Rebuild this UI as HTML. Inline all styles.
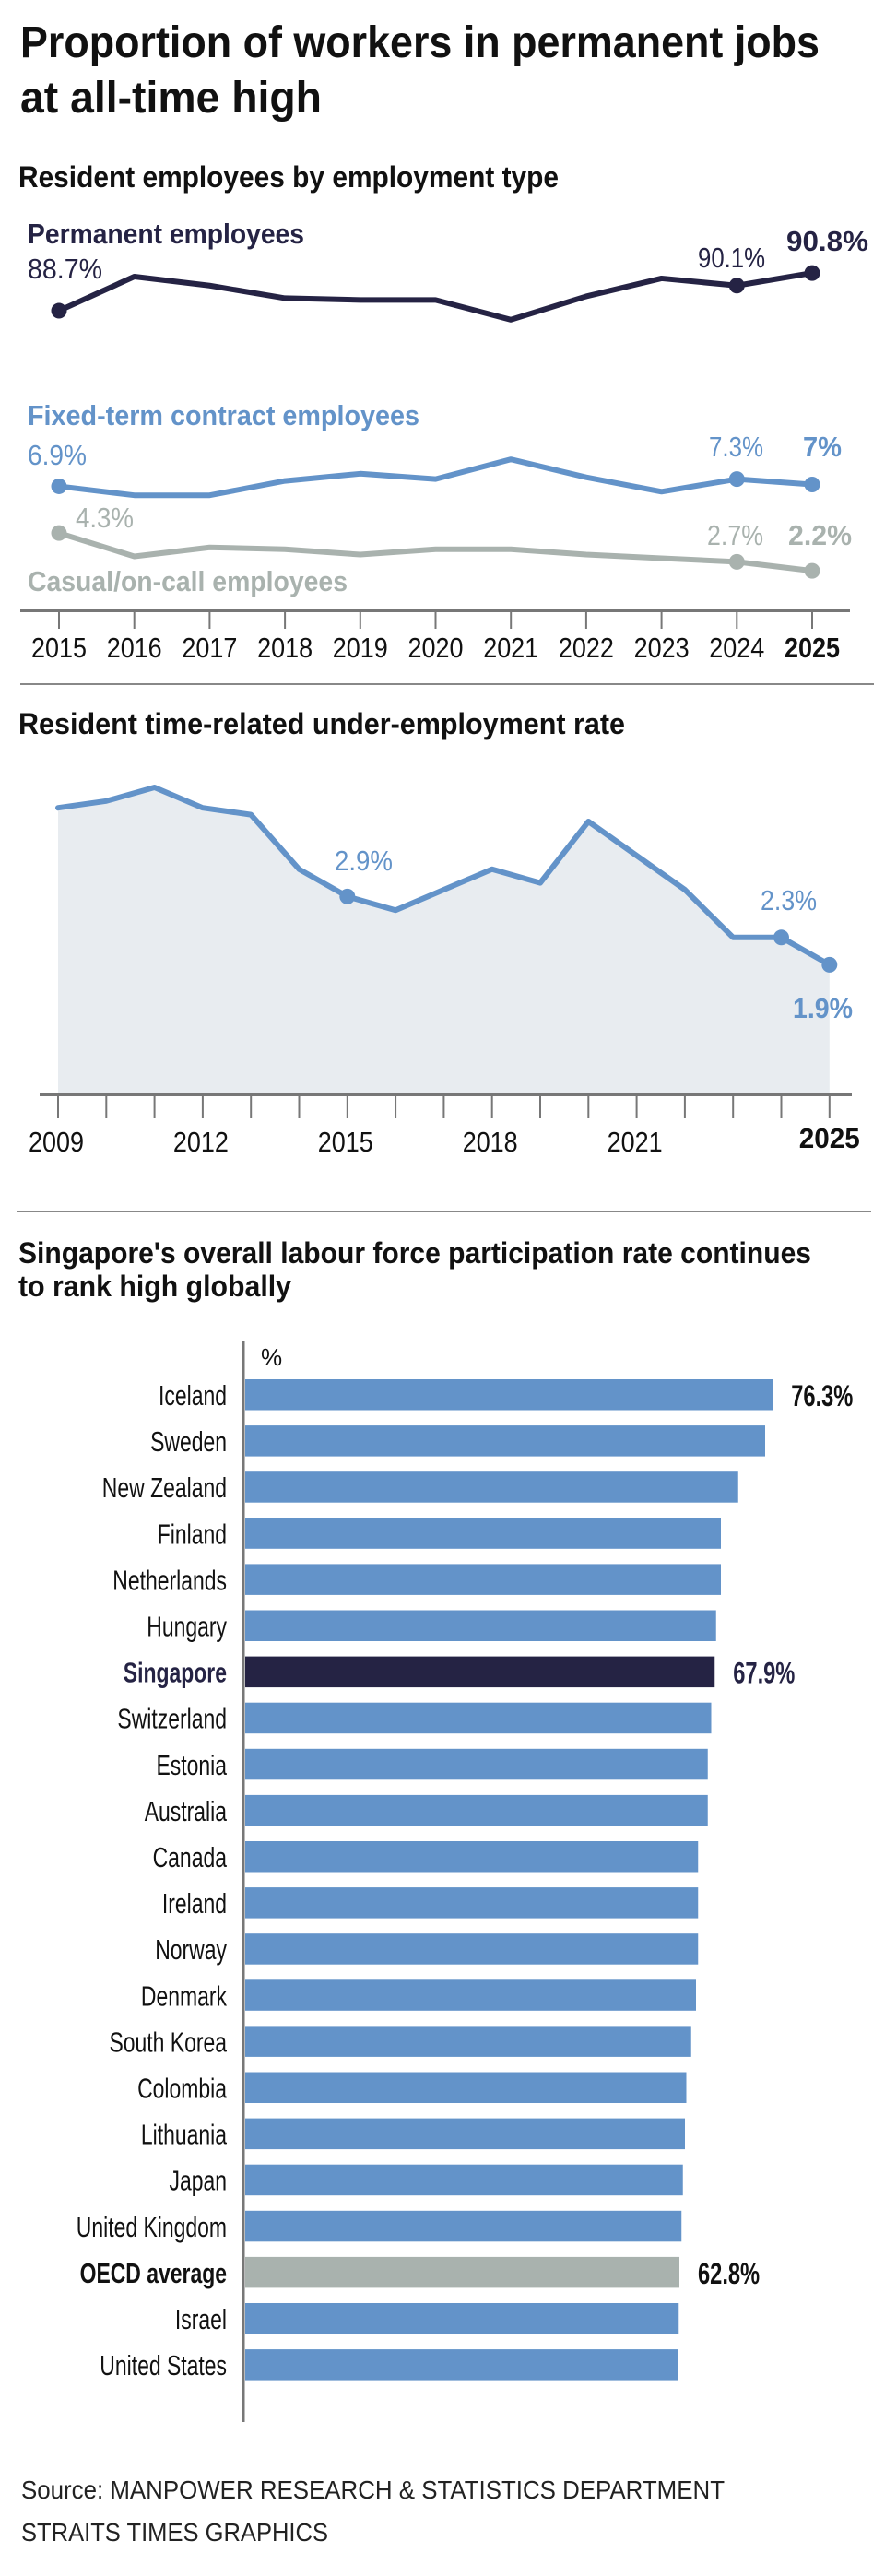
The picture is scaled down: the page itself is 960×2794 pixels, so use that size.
<!DOCTYPE html>
<html><head><meta charset="utf-8"><style>
html,body{margin:0;padding:0;background:#fff}
svg{display:block;font-family:"Liberation Sans",sans-serif}
</style></head><body>
<svg id="svg" width="960" height="2794" viewBox="0 0 960 2794" xmlns="http://www.w3.org/2000/svg">
<text x="22" y="62" font-size="48" font-weight="bold" fill="#111" textLength="867" lengthAdjust="spacingAndGlyphs">Proportion of workers in permanent jobs</text>
<text x="22" y="122" font-size="48" font-weight="bold" fill="#111" textLength="327" lengthAdjust="spacingAndGlyphs">at all-time high</text>
<text x="20" y="203" font-size="32" font-weight="bold" fill="#111" textLength="586" lengthAdjust="spacingAndGlyphs">Resident employees by employment type</text>
<text x="30" y="264" font-size="31" font-weight="bold" fill="#252344" textLength="300" lengthAdjust="spacingAndGlyphs">Permanent employees</text>
<text x="30" y="461" font-size="31" font-weight="bold" fill="#6393c9" textLength="425" lengthAdjust="spacingAndGlyphs">Fixed-term contract employees</text>
<text x="30" y="641" font-size="31" font-weight="bold" fill="#a9b2ae" textLength="347" lengthAdjust="spacingAndGlyphs">Casual/on-call employees</text>
<g id="c1"></g>
<line x1="22" y1="742" x2="948" y2="742" stroke="#888" stroke-width="2"/>
<text x="20" y="796" font-size="32" font-weight="bold" fill="#111" textLength="658" lengthAdjust="spacingAndGlyphs">Resident time-related under-employment rate</text>
<g id="c2"></g>
<line x1="18" y1="1314" x2="945" y2="1314" stroke="#888" stroke-width="2"/>
<text x="20" y="1370" font-size="32" font-weight="bold" fill="#111" textLength="860" lengthAdjust="spacingAndGlyphs">Singapore's overall labour force participation rate continues</text>
<text x="20" y="1406" font-size="32" font-weight="bold" fill="#111" textLength="296" lengthAdjust="spacingAndGlyphs">to rank high globally</text>
<g id="c3"></g>
<text x="23" y="2710" font-size="28" fill="#222" textLength="763" lengthAdjust="spacingAndGlyphs">Source: MANPOWER RESEARCH &amp; STATISTICS DEPARTMENT</text>
<text x="23" y="2756" font-size="28" fill="#222" textLength="333" lengthAdjust="spacingAndGlyphs">STRAITS TIMES GRAPHICS</text>
</svg>
<script>
const years1 = [2015,2016,2017,2018,2019,2020,2021,2022,2023,2024,2025];
const permanent = [88.7,90.6,90.1,89.4,89.3,89.3,88.2,89.5,90.5,90.1,90.8];
const fixedTerm = [6.9,6.4,6.4,7.2,7.6,7.3,8.4,7.4,6.6,7.3,7.0];
const casual = [4.3,3.0,3.5,3.4,3.1,3.4,3.4,3.1,2.9,2.7,2.2];

const years2 = [2009,2010,2011,2012,2013,2014,2015,2016,2017,2018,2019,2020,2021,2022,2023,2024,2025];
const underEmp = [4.2,4.3,4.5,4.2,4.1,3.3,2.9,2.7,3.0,3.3,3.1,4.0,3.5,3.0,2.3,2.3,1.9];
const years2Labels = [2009,2012,2015,2018,2021,2025];

const countries = ["Iceland","Sweden","New Zealand","Finland","Netherlands","Hungary","Singapore","Switzerland","Estonia","Australia","Canada","Ireland","Norway","Denmark","South Korea","Colombia","Lithuania","Japan","United Kingdom","OECD average","Israel","United States"];
const lfpr = [76.3,75.2,71.3,68.8,68.8,68.1,67.9,67.4,66.9,66.9,65.5,65.5,65.5,65.2,64.5,63.8,63.6,63.3,63.1,62.8,62.7,62.6];

const NS="http://www.w3.org/2000/svg";
function mk(parent,tag,attrs){const e=document.createElementNS(NS,tag);for(const k in attrs)e.setAttribute(k,attrs[k]);parent.appendChild(e);return e;}
function txt(parent,s,attrs){const e=mk(parent,'text',attrs);e.textContent=s;return e;}

// Chart 1
const c1=document.getElementById('c1');
const x1=y=>64+(y-2015)*81.7;
const yPerm=v=>2066.7-v*19.5;
const yLow=v=>662-v*19.5;
let ax=mk(c1,'line',{x1:22,y1:662,x2:922,y2:662,stroke:'#777','stroke-width':4});


years1.forEach((yr,i)=>{
  const t=mk(c1,'line',{x1:x1(yr),y1:662,x2:x1(yr),y2:682,stroke:'#777','stroke-width':2});
  
  
  const l=txt(c1,String(yr),{x:x1(yr),y:713,'text-anchor':'middle','font-size':31,fill:'#111','font-weight':yr===2025?'bold':'normal',textLength:60,lengthAdjust:'spacingAndGlyphs'});
  
  
});
function series(parent,xs,vals,xf,yf,color,name,marks){
  const pts=vals.map((v,i)=>xf(xs[i])+','+yf(v)).join(' ');
  const pl=mk(parent,'polyline',{points:pts,fill:'none',stroke:color,'stroke-width':6,'stroke-linejoin':'round','stroke-linecap':'round'});
  
  
  marks.forEach(i=>{
    const c=mk(parent,'circle',{cx:xf(xs[i]),cy:yf(vals[i]),r:8.5,fill:color});
    
    
  });
}
series(c1,years1,casual,x1,yLow,'#a9b2ae','casual',[0,9,10]);
series(c1,years1,fixedTerm,x1,yLow,'#6393c9','fixed-term',[0,9,10]);
series(c1,years1,permanent,x1,yPerm,'#252344','permanent',[0,9,10]);
function vlabel(parent,s,x,y,color,bold,len,name){
  const e=txt(parent,s,{x:x,y:y,'font-size':31,fill:color,'font-weight':bold?'bold':'normal',textLength:len,lengthAdjust:'spacingAndGlyphs'});
  
  
}
vlabel(c1,permanent[0]+'%',30,302,'#252344',false,81,'permanent-2015-value');
vlabel(c1,permanent[9]+'%',757,290,'#252344',false,73,'permanent-2024-value');
vlabel(c1,permanent[10]+'%',853,272,'#252344',true,89,'permanent-2025-value');
vlabel(c1,fixedTerm[0]+'%',30,504,'#6393c9',false,64,'fixed-term-2015-value');
vlabel(c1,fixedTerm[9]+'%',769,495,'#6393c9',false,59,'fixed-term-2024-value');
vlabel(c1,Math.round(fixedTerm[10]*10)/10+'%',871,495,'#6393c9',true,42,'fixed-term-2025-value');
vlabel(c1,casual[0]+'%',82,572,'#a9b2ae',false,63,'casual-2015-value');
vlabel(c1,casual[9]+'%',767,591,'#a9b2ae',false,61,'casual-2024-value');
vlabel(c1,casual[10]+'%',855,591,'#a9b2ae',true,69,'casual-2025-value');

// Chart 2
const c2=document.getElementById('c2');
const x2=y=>63+(y-2009)*52.3;
const y2=v=>1187-v*74;
const areaPts=[x2(years2[0])+','+y2(0)].concat(underEmp.map((v,i)=>x2(years2[i])+','+y2(v))).concat([x2(years2[years2.length-1])+','+y2(0)]).join(' ');
const ar=mk(c2,'polygon',{points:areaPts,fill:'#e8ecf0'});


const ax2=mk(c2,'line',{x1:43,y1:1187,x2:924,y2:1187,stroke:'#777','stroke-width':4});


years2.forEach(yr=>{
  const t=mk(c2,'line',{x1:x2(yr),y1:1187,x2:x2(yr),y2:1213,stroke:'#777','stroke-width':2});
  
  
});
years2Labels.forEach(yr=>{
  const b=yr===2025;
  const l=txt(c2,String(yr),{x:x2(yr)+(b?0:-2),y:b?1245:1249,'text-anchor':'middle','font-size':31,fill:'#111','font-weight':b?'bold':'normal',textLength:b?66:60,lengthAdjust:'spacingAndGlyphs'});
  
  
});
series(c2,years2,underEmp,x2,y2,'#6393c9','under-employment',[6,15,16]);
vlabel(c2,underEmp[6]+'%',363,944,'#6393c9',false,63,'under-employment-2015-value');
vlabel(c2,underEmp[15]+'%',825,987,'#6393c9',false,61,'under-employment-2024-value');
vlabel(c2,underEmp[16]+'%',860,1104,'#6393c9',true,65,'under-employment-2025-value');

// Chart 3
const c3=document.getElementById('c3');
const x3=v=>266+v*7.5;
const rowTop=i=>1496+i*50.1;
const axv=mk(c3,'line',{x1:264,y1:1455,x2:264,y2:2627,stroke:'#777','stroke-width':3});


const pct=txt(c3,'%',{x:283,y:1481,'font-size':26,fill:'#111'});


countries.forEach((c,i)=>{
  const isSg=c==='Singapore', isO=c==='OECD average';
  const col=isSg?'#252344':(isO?'#a9b2ae':'#6393c9');
  const r=mk(c3,'rect',{x:266,y:rowTop(i),width:x3(lfpr[i])-266,height:33.5,fill:col});
  
  
  const l=txt(c3,c,{x:246,y:rowTop(i)+28,'text-anchor':'end','font-size':31,fill:isSg?'#252344':'#111','font-weight':(isSg||isO)?'bold':'normal'});
  l.setAttribute('class','cond');
  
  
  if(i===0||isSg||isO){
    const v=txt(c3,lfpr[i]+'%',{x:x3(lfpr[i])+20,y:rowTop(i)+29,'font-size':32,'font-weight':'bold',fill:isSg?'#252344':'#111'});
    v.setAttribute('class','cond');
    
    
  }
});
document.querySelectorAll('.cond').forEach(e=>{
  const w=e.getComputedTextLength();
  e.setAttribute('textLength',(w*0.74).toFixed(1));
  e.setAttribute('lengthAdjust','spacingAndGlyphs');
});
</script>
</body></html>
